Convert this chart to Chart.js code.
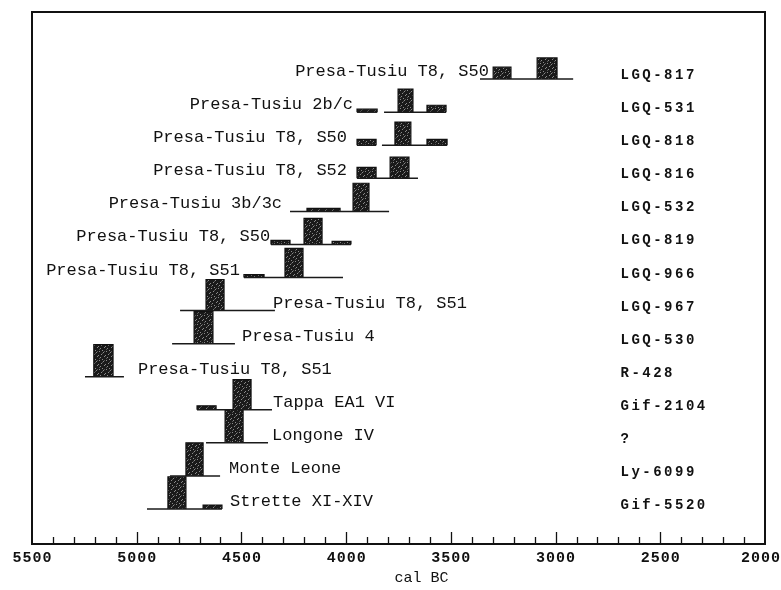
<!DOCTYPE html>
<html>
<head>
<meta charset="utf-8">
<title>cal BC</title>
<script src="https://cdn.jsdelivr.net/npm/chart.js@4.4.1/dist/chart.umd.min.js"></script>
<style>
  html, body { margin: 0; padding: 0; background: #fff; }
</style>
</head>
<body>
<canvas id="chart" width="781" height="590"></canvas>
<script>
// Sample names, top row first
const sites = [
    'Presa-Tusiu T8, S50', 'Presa-Tusiu 2b/c', 'Presa-Tusiu T8, S50', 'Presa-Tusiu T8, S52',
    'Presa-Tusiu 3b/3c', 'Presa-Tusiu T8, S50', 'Presa-Tusiu T8, S51', 'Presa-Tusiu T8, S51',
    'Presa-Tusiu 4', 'Presa-Tusiu T8, S51', 'Tappa EA1 VI', 'Longone IV',
    'Monte Leone', 'Strette XI-XIV'
];
const labCodes = [
    'LGQ-817', 'LGQ-531', 'LGQ-818', 'LGQ-816', 'LGQ-532', 'LGQ-819', 'LGQ-966',
    'LGQ-967', 'LGQ-530', 'R-428', 'Gif-2104', '?', 'Ly-6099', 'Gif-5520'
];

// 2 sigma ranges, cal BC [from, to]
const ranges2s = [
    [[3361, 2916]],
    [[3948, 3852], [3819, 3523]],
    [[3948, 3857], [3829, 3518]],
    [[3948, 3657]],
    [[4268, 3795]],
    [[4359, 3977]],
    [[4488, 4015]],
    [[4793, 4340]],
    [[4831, 4531]],
    [[5247, 5061]],
    [[4712, 4354]],
    [[4669, 4373]],
    [[4841, 4602]],
    [[4951, 4593]]
];

// 1 sigma ranges, cal BC [from, to, relative probability]
const ranges1s = [
    [[3298, 3213, 0.36], [3088, 2993, 0.64]],
    [[3948, 3852, 0.09], [3752, 3681, 0.70], [3614, 3523, 0.21]],
    [[3948, 3857, 0.18], [3767, 3691, 0.70], [3614, 3518, 0.18]],
    [[3948, 3857, 0.33], [3790, 3700, 0.64]],
    [[4187, 4029, 0.09], [3967, 3891, 0.85]],
    [[4359, 4268, 0.12], [4201, 4115, 0.79], [4067, 3977, 0.09]],
    [[4488, 4392, 0.09], [4292, 4206, 0.88]],
    [[4669, 4583, 0.94]],
    [[4726, 4636, 0.97]],
    [[5205, 5113, 0.97]],
    [[4712, 4621, 0.12], [4540, 4454, 0.91]],
    [[4578, 4492, 1.0]],
    [[4765, 4683, 1.0]],
    [[4851, 4765, 0.97], [4683, 4593, 0.12]]
];

const tickLabels = [5500, 5000, 4500, 4000, 3500, 3000, 2500, 2000];
const minorStep = 100;
const axisTitle = 'cal BC';

// where each name is written (cal BC) and on which side of its range
const labelAt = [3318, 3967, 3996, 3996, 4306, 4363, 4507, 4349, 4497, 4994, 4349, 4354, 4559, 4554];
const labelRight = [false, false, false, false, false, false, false, true, true, true, true, true, true, true];
const codeColumn = 2690;

const canvas = document.getElementById('chart');
const ctx0 = canvas.getContext('2d');

// speckled fill like the printed boxes
function speckle() {
    const c = document.createElement('canvas');
    c.width = 7; c.height = 9;
    const g = c.getContext('2d');
    g.fillStyle = '#1a1a1a';
    g.fillRect(0, 0, 7, 9);
    g.fillStyle = '#8a8a8a';
    [[1, 0], [5, 1], [3, 3], [0, 4], [6, 5], [2, 6], [4, 8]].forEach(p => g.fillRect(p[0], p[1], 1, 1));
    g.fillStyle = '#555';
    [[4, 2], [1, 7], [6, 0]].forEach(p => g.fillRect(p[0], p[1], 1, 1));
    return ctx0.createPattern(c, 'repeat');
}
const pattern = speckle();

function rowBase(i) {
    return sites.length - 1 - i;
}

const datasets = [];
ranges2s.forEach((segs, i) => {
    const base = rowBase(i);
    segs.forEach(s => {
        datasets.push({
            data: [{x: s[0], y: base}, {x: s[1], y: base}],
            borderColor: '#1a1a1a',
            borderWidth: 1.5,
            pointRadius: 0,
            fill: false
        });
    });
});
ranges1s.forEach((boxes, i) => {
    const base = rowBase(i);
    boxes.forEach(b => {
        const top = base + b[2];
        datasets.push({
            data: [{x: b[0], y: base}, {x: b[0], y: top}, {x: b[1], y: top}, {x: b[1], y: base}],
            borderColor: '#111',
            borderWidth: 1.2,
            pointRadius: 0,
            backgroundColor: pattern,
            fill: {value: base}
        });
    });
});

const decor = {
    id: 'decor',
    afterDraw(chart) {
        const {ctx, chartArea: a, scales: {x, y}} = chart;
        ctx.save();
        ctx.strokeStyle = '#111';
        ctx.fillStyle = '#111';

        // frame
        ctx.lineWidth = 2;
        ctx.strokeRect(a.left, a.top, a.right - a.left, a.bottom - a.top);

        // inward ticks
        ctx.lineWidth = 1.3;
        const hi = tickLabels[0], lo = tickLabels[tickLabels.length - 1];
        for (let v = hi - minorStep; v > lo; v -= minorStep) {
            const px = Math.round(x.getPixelForValue(v)) + 0.5;
            const len = v % 500 === 0 ? 12 : 7;
            ctx.beginPath();
            ctx.moveTo(px, a.bottom);
            ctx.lineTo(px, a.bottom - len);
            ctx.stroke();
        }

        // tick labels
        ctx.font = 'bold 15px "Liberation Mono"';
        ctx.letterSpacing = '1px';
        ctx.textAlign = 'left';
        ctx.textBaseline = 'middle';
        tickLabels.forEach(v => {
            const t = String(v);
            const w = ctx.measureText(t).width - 1;
            let px = x.getPixelForValue(v) - w / 2;
            px = Math.max(4, Math.min(px, chart.width - w - 1));
            ctx.fillText(t, px, a.bottom + 14);
        });

        // lab codes
        ctx.font = 'bold 14px "Liberation Mono"';
        ctx.letterSpacing = '2.5px';
        ctx.textBaseline = 'alphabetic';
        labCodes.forEach((c, i) => {
            ctx.fillText(c, x.getPixelForValue(codeColumn), y.getPixelForValue(rowBase(i)));
        });
        ctx.letterSpacing = '0px';

        // axis title
        ctx.font = '15px "Liberation Mono"';
        ctx.textAlign = 'center';
        ctx.textBaseline = 'middle';
        ctx.fillText(axisTitle, x.getPixelForValue(3640), a.bottom + 34);

        // sample names
        ctx.font = '17px "Liberation Mono"';
        ctx.textBaseline = 'alphabetic';
        sites.forEach((s, i) => {
            ctx.textAlign = labelRight[i] ? 'left' : 'right';
            ctx.fillText(s, x.getPixelForValue(labelAt[i]), y.getPixelForValue(rowBase(i)) - 3);
        });
        ctx.restore();
    }
};

new Chart(canvas, {
    type: 'line',
    data: { datasets: datasets },
    options: {
        responsive: false,
        animation: false,
        events: [],
        layout: { padding: { left: 32, right: 16, top: 12, bottom: 46 } },
        plugins: {
            legend: { display: false },
            tooltip: { enabled: false }
        },
        elements: { line: { tension: 0 } },
        scales: {
            x: { type: 'linear', reverse: true, min: 2000, max: 5500, display: false },
            y: { type: 'linear', min: -1.06, max: 15.03, display: false }
        }
    },
    plugins: [decor]
});
</script>
</body>
</html>
